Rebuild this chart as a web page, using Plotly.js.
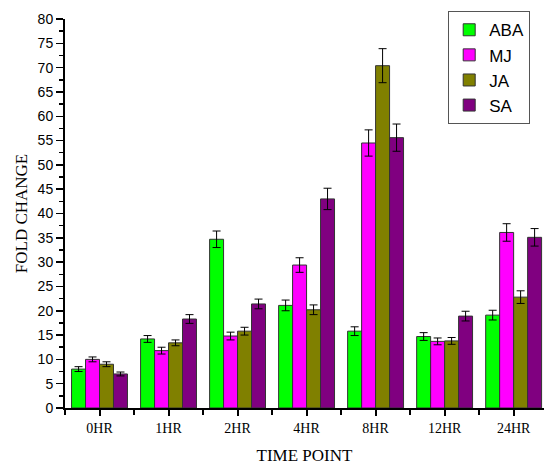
<!DOCTYPE html>
<html>
<head>
<meta charset="utf-8">
<script src="https://cdn.plot.ly/plotly-3.0.1.min.js"></script>
<style>html,body{margin:0;padding:0;background:#fff;}#chart{width:544px;height:468px;}</style>
</head>
<body>
<div id="chart"></div>
<script>
const categories = ["0HR", "1HR", "2HR", "4HR", "8HR", "12HR", "24HR"];
const seriesNames = ["ABA", "MJ", "JA", "SA"];
const abaValues = [8.0, 14.2, 34.7, 21.1, 15.8, 14.7, 19.1];
const abaErrors = [0.5, 0.7, 1.7, 1.1, 0.9, 0.8, 1.0];
const mjValues  = [10.0, 11.8, 14.8, 29.4, 54.5, 13.7, 36.1];
const mjErrors  = [0.5, 0.7, 0.8, 1.5, 2.7, 0.7, 1.8];
const jaValues  = [9.0, 13.4, 15.8, 20.2, 70.4, 13.8, 22.8];
const jaErrors  = [0.5, 0.6, 0.8, 1.0, 3.5, 0.7, 1.3];
const saValues  = [7.0, 18.3, 21.4, 43.0, 55.6, 18.9, 35.1];
const saErrors  = [0.4, 0.9, 1.0, 2.2, 2.8, 1.0, 1.8];
const colors = ["#00FF00", "#FF00FF", "#808000", "#800080"];

const xIdx = categories.map((c, i) => i);
const vals = [abaValues, mjValues, jaValues, saValues];
const errs = [abaErrors, mjErrors, jaErrors, saErrors];

const traces = seriesNames.map((name, k) => ({
  type: "bar",
  name: name,
  x: xIdx,
  y: vals[k],
  marker: { color: colors[k], line: { color: "#333333", width: 1 } },
  error_y: { type: "data", array: errs[k], visible: true, color: "#000000", thickness: 1, width: 4 }
}));

const layout = {
  width: 544,
  height: 468,
  margin: { l: 65, r: 0, t: 19, b: 60 },
  paper_bgcolor: "#ffffff",
  plot_bgcolor: "#ffffff",
  barmode: "group",
  bargap: 0.19,
  bargroupgap: 0,
  showlegend: true,
  legend: {
    x: 0.80, y: 1.02, xanchor: "left", yanchor: "top",
    bordercolor: "#555555", borderwidth: 1, bgcolor: "#ffffff",
    font: { family: "Liberation Sans, Arial, sans-serif", size: 17, color: "#000" },
    tracegroupgap: 0
  },
  xaxis: {
    range: [-0.5, 6.44],
    tickvals: xIdx,
    ticktext: categories,
    showgrid: false,
    zeroline: false,
    showline: true,
    linecolor: "#000",
    linewidth: 2,
    ticks: "outside",
    ticklen: 6,
    tickwidth: 2,
    tickcolor: "#000",
    minor: { tick0: 0.5, dtick: 1, ticks: "outside", ticklen: 5, tickwidth: 2, tickcolor: "#000", showgrid: false },
    tickfont: { family: "Liberation Serif, Times New Roman, serif", size: 14, color: "#000" },
    title: { text: "TIME POINT", font: { family: "Liberation Serif, Times New Roman, serif", size: 17, color: "#000" }, standoff: 14 }
  },
  yaxis: {
    range: [0, 80],
    tick0: 0,
    dtick: 5,
    showgrid: false,
    zeroline: false,
    showline: true,
    linecolor: "#000",
    linewidth: 2,
    ticks: "outside",
    ticklen: 7,
    tickwidth: 1.5,
    tickcolor: "#000",
    minor: { dtick: 2.5, ticks: "outside", ticklen: 4, tickwidth: 1.5, tickcolor: "#000", showgrid: false },
    tickfont: { family: "Liberation Sans, Arial, sans-serif", size: 14, color: "#000" },
    title: { text: "FOLD CHANGE", font: { family: "Liberation Serif, Times New Roman, serif", size: 17, color: "#000" }, standoff: 6 }
  }
};

Plotly.newPlot("chart", traces, layout, { displayModeBar: false, staticPlot: true });
</script>
</body>
</html>
